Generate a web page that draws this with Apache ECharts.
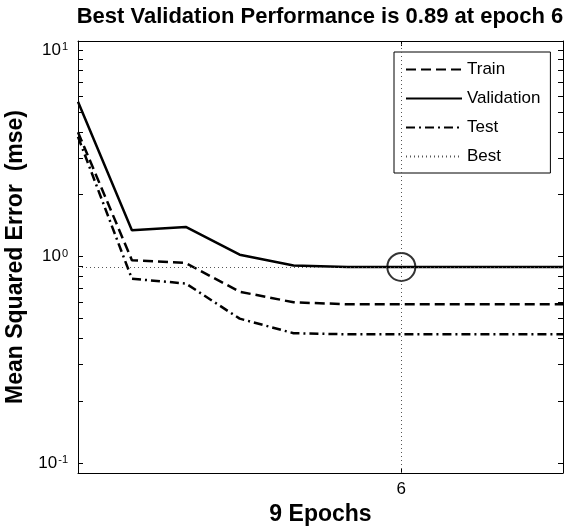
<!DOCTYPE html>
<html>
<head>
<meta charset="utf-8">
<script src="https://cdn.jsdelivr.net/npm/echarts@6/dist/echarts.min.js"></script>
<style>
html,body{margin:0;padding:0;background:#fff;}
#chart{width:567px;height:526px;}
</style>
</head>
<body>
<div id="chart"></div>
<script>
// ---- data ----
const epochs = [0, 1, 2, 3, 4, 5, 6, 7, 8, 9];
const trainPerf = [4.0, 0.96, 0.93, 0.675, 0.60, 0.587, 0.587, 0.587, 0.587, 0.587];
const valPerf = [5.62, 1.34, 1.39, 1.02, 0.905, 0.89, 0.89, 0.89, 0.89, 0.89];
const testPerf = [3.8, 0.78, 0.74, 0.50, 0.425, 0.42, 0.42, 0.42, 0.42, 0.42];
const bestEpoch = 6;
const bestPerf = 0.89;
const seriesNames = ['Train', 'Validation', 'Test', 'Best'];
const xTickValues = [6];
const yLabelValues = [0.1, 1, 10];
const yTickValues = [0.1, 0.2, 0.3, 0.4, 0.5, 0.6, 0.7, 0.8, 0.9, 1, 2, 3, 4, 5, 6, 7, 8, 9, 10];
const titleText = 'Best Validation Performance is 0.89 at epoch 6';
const xName = '9 Epochs';
const yName = 'Mean Squared Error  (mse)';

const FONT = 'Liberation Sans, Arial, sans-serif';
const pairs = arr => epochs.map((e, i) => [e, arr[i]]);
const lineCol = '#000';
const axisLineStyle = { color: '#000', width: 1 };

function yFmt(v) {
  const e = Math.round(Math.log10(v));
  return '{b|10}{s|' + e + '}';
}

const chart = echarts.init(document.getElementById('chart'), null, { renderer: 'canvas' });
chart.setOption({
  animation: false,
  backgroundColor: '#fff',
  title: {
    text: titleText,
    left: 320,
    top: 6,
    padding: 0,
    textAlign: 'center',
    textStyle: { fontFamily: FONT, fontSize: 22, fontWeight: 'bold', color: '#000' }
  },
  legend: {
    data: seriesNames,
    orient: 'vertical',
    left: 394,
    top: 52,
    padding: [9, 10, 8, 11],
    itemWidth: 56,
    itemHeight: 14,
    itemGap: 12,
    selectedMode: false,
    backgroundColor: '#fff',
    borderColor: '#000',
    borderWidth: 1,
    borderRadius: 0,
    itemStyle: { opacity: 0, borderWidth: 0 },
    textStyle: { fontFamily: FONT, fontSize: 17, color: '#000' }
  },
  grid: { left: 78, right: 4, top: 41, bottom: 53, outerBoundsMode: 'none', containLabel: false },
  xAxis: [
    {
      type: 'value', min: 0, max: 9, position: 'bottom',
      name: xName, nameLocation: 'middle', nameGap: 29,
      nameTextStyle: { fontFamily: FONT, fontSize: 23, fontWeight: 'bold', color: '#000' },
      axisLine: { show: true, onZero: false, lineStyle: axisLineStyle },
      axisTick: { show: true, inside: true, length: 5, customValues: xTickValues, lineStyle: axisLineStyle },
      axisLabel: { customValues: xTickValues, margin: 8, fontFamily: FONT, fontSize: 17, color: '#000' },
      splitLine: { show: false }
    },
    {
      type: 'value', min: 0, max: 9, position: 'top',
      axisLine: { show: true, onZero: false, lineStyle: axisLineStyle },
      axisTick: { show: true, inside: true, length: 5, customValues: xTickValues, lineStyle: axisLineStyle },
      axisLabel: { show: false },
      splitLine: { show: false }
    }
  ],
  yAxis: [
    {
      type: 'log', logBase: 10, min: 0.0894, max: 11.06, position: 'left',
      name: yName, nameLocation: 'middle', nameGap: 46, nameRotate: 90,
      nameTextStyle: { fontFamily: FONT, fontSize: 23, fontWeight: 'bold', color: '#000' },
      axisLine: { show: true, onZero: false, lineStyle: axisLineStyle },
      axisTick: { show: true, inside: true, length: 5, customValues: yTickValues, lineStyle: axisLineStyle },
      axisLabel: {
        customValues: yLabelValues, margin: 10, formatter: yFmt,
        rich: {
          b: { fontFamily: FONT, fontSize: 17, color: '#000', lineHeight: 17, padding: [5, 0, 5, 0] },
          s: { fontFamily: FONT, fontSize: 11, color: '#000', lineHeight: 12, verticalAlign: 'top', padding: [0, 0, 15, 1] }
        }
      },
      splitLine: { show: false }
    },
    {
      type: 'log', logBase: 10, min: 0.0894, max: 11.06, position: 'right',
      axisLine: { show: true, onZero: false, lineStyle: axisLineStyle },
      axisTick: { show: true, inside: true, length: 5, customValues: yTickValues, lineStyle: axisLineStyle },
      axisLabel: { show: false },
      splitLine: { show: false }
    }
  ],
  series: [
    {
      name: 'Train', type: 'line', data: pairs(trainPerf), symbol: 'none',
      lineStyle: { color: lineCol, width: 2.5, type: [10, 5] }, itemStyle: { color: lineCol }, z: 3
    },
    {
      name: 'Validation', type: 'line', data: pairs(valPerf), symbol: 'none',
      lineStyle: { color: lineCol, width: 2.5, type: 'solid' }, itemStyle: { color: lineCol }, z: 3
    },
    {
      name: 'Test', type: 'line', data: pairs(testPerf), symbol: 'none',
      lineStyle: { color: lineCol, width: 2.5, type: [9, 4, 2, 4] }, itemStyle: { color: lineCol }, z: 3
    },
    {
      name: 'Best', type: 'line', data: [[bestEpoch, bestPerf]], symbol: 'none',
      lineStyle: { color: '#555', width: 1, type: [1, 3] }, itemStyle: { color: '#555' }, z: 2,
      markLine: {
        silent: true, symbol: ['none', 'none'], label: { show: false },
        lineStyle: { color: '#555', width: 1, type: [1, 3] },
        data: [{ yAxis: bestPerf }, { xAxis: bestEpoch }]
      }
    },
    {
      type: 'scatter', data: [[bestEpoch, bestPerf]], symbol: 'circle', symbolSize: 28,
      itemStyle: { color: 'rgba(0,0,0,0)', borderColor: '#000', borderWidth: 2 }, z: 4, silent: true
    }
  ]
});
</script>
</body>
</html>
